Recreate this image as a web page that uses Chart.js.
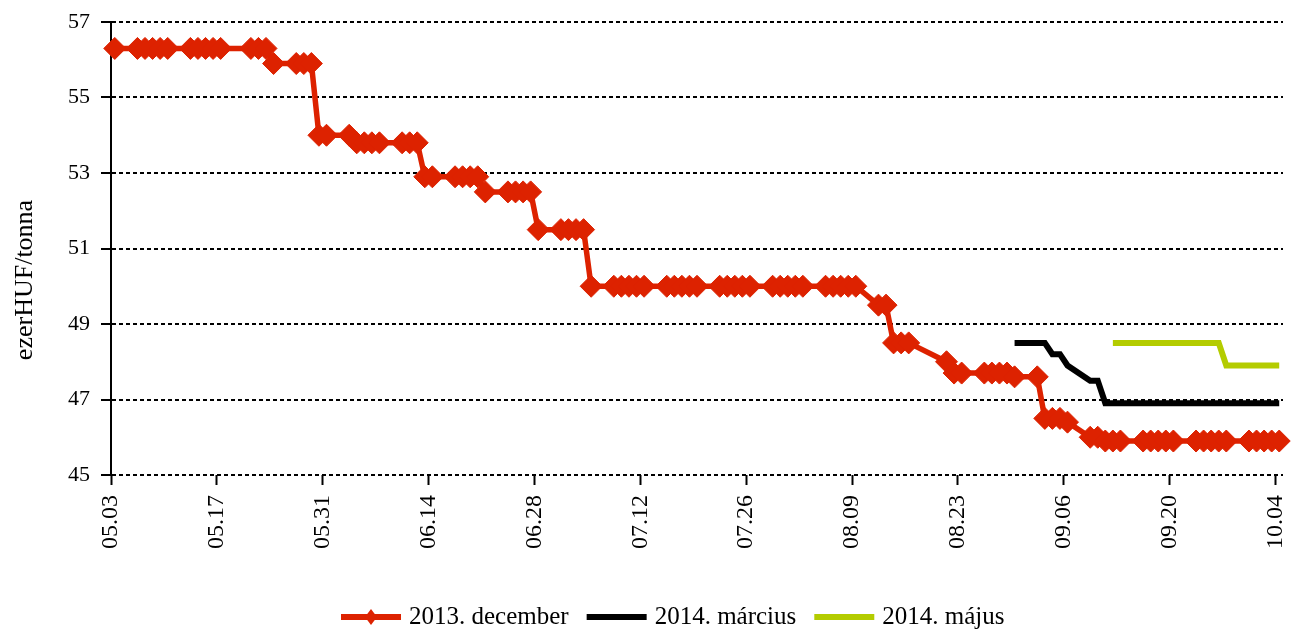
<!DOCTYPE html>
<html>
<head>
<meta charset="utf-8">
<script src="https://cdn.jsdelivr.net/npm/chart.js@4.4.1/dist/chart.umd.min.js"></script>
<style>
    html, body { margin: 0; padding: 0; background: #fff; }
    canvas { display: block; }
</style>
</head>
<body>
<canvas id="priceChart" width="1295" height="630"></canvas>
<script>
// trading days 2013 (MM.DD), holidays 05.20, 08.19, 08.20 left out
const tradingDays = [
    '05.03', '05.06', '05.07', '05.08', '05.09', '05.10', '05.13', '05.14', '05.15', '05.16', '05.17',
    '05.21', '05.22', '05.23', '05.24', '05.27', '05.28', '05.29', '05.30', '05.31',
    '06.03', '06.04', '06.05', '06.06', '06.07', '06.10', '06.11', '06.12', '06.13', '06.14',
    '06.17', '06.18', '06.19', '06.20', '06.21', '06.24', '06.25', '06.26', '06.27', '06.28',
    '07.01', '07.02', '07.03', '07.04', '07.05', '07.08', '07.09', '07.10', '07.11', '07.12',
    '07.15', '07.16', '07.17', '07.18', '07.19', '07.22', '07.23', '07.24', '07.25', '07.26',
    '07.29', '07.30', '07.31', '08.01', '08.02', '08.05', '08.06', '08.07', '08.08', '08.09',
    '08.12', '08.13', '08.14', '08.15', '08.16', '08.21', '08.22', '08.23',
    '08.26', '08.27', '08.28', '08.29', '08.30', '09.02', '09.03', '09.04', '09.05', '09.06',
    '09.09', '09.10', '09.11', '09.12', '09.13', '09.16', '09.17', '09.18', '09.19', '09.20',
    '09.23', '09.24', '09.25', '09.26', '09.27', '09.30', '10.01', '10.02', '10.03', '10.04',
];

const dec2013 = [
    56.3, 56.3, 56.3, 56.3, 56.3, 56.3, 56.3, 56.3, 56.3, 56.3, 56.3,
    56.3, 56.3, 56.3, 55.9, 55.9, 55.9, 55.9, 54.0, 54.0,
    54.0, 53.8, 53.8, 53.8, 53.8, 53.8, 53.8, 53.8, 52.9, 52.9,
    52.9, 52.9, 52.9, 52.9, 52.5, 52.5, 52.5, 52.5, 52.5, 51.5,
    51.5, 51.5, 51.5, 51.5, 50.0, 50.0, 50.0, 50.0, 50.0, 50.0,
    50.0, 50.0, 50.0, 50.0, 50.0, 50.0, 50.0, 50.0, 50.0, 50.0,
    50.0, 50.0, 50.0, 50.0, 50.0, 50.0, 50.0, 50.0, 50.0, 50.0,
    49.5, 49.5, 48.5, 48.5, 48.5, 48.0, 47.7, 47.7,
    47.7, 47.7, 47.7, 47.7, 47.6, 47.6, 46.5, 46.5, 46.5, 46.4,
    46.0, 46.0, 45.9, 45.9, 45.9, 45.9, 45.9, 45.9, 45.9, 45.9,
    45.9, 45.9, 45.9, 45.9, 45.9, 45.9, 45.9, 45.9, 45.9, 45.9,
];

// from 08.30
const mar2014 = [
    48.5, 48.5, 48.5, 48.2, 48.2, 47.9,
    47.5, 47.5, 46.9, 46.9, 46.9, 46.9, 46.9, 46.9, 46.9, 46.9,
    46.9, 46.9, 46.9, 46.9, 46.9, 46.9, 46.9, 46.9, 46.9, 46.9,
];

// from 09.12
const may2014 = [
    48.5, 48.5, 48.5, 48.5, 48.5, 48.5, 48.5,
    48.5, 48.5, 48.5, 48.5, 47.9, 47.9, 47.9, 47.9, 47.9, 47.9,
];

const axisDays = ['05.03', '05.17', '05.31', '06.14', '06.28', '07.12', '07.26', '08.09', '08.23', '09.06', '09.20', '10.04'];
const yTicks = [45, 47, 49, 51, 53, 55, 57];

const seriesNames = ['2013. december', '2014. március', '2014. május'];
const yTitle = 'ezerHUF/tonna';

const serif = "'Liberation Serif', 'Times New Roman', serif";

const dayOffset = (s) => {
    const [m, d] = s.split('.').map(Number);
    return (Date.UTC(2013, m - 1, d) - Date.UTC(2013, 4, 3)) / 864e5;
};
// points sit in the middle of their day
const toPoints = (days, values) => values.map((v, i) => ({ x: dayOffset(days[i]) + 0.5, y: v }));

const marDays = tradingDays.slice(tradingDays.indexOf('08.30'));
const mayDays = tradingDays.slice(tradingDays.indexOf('09.12'));

const excelLegend = {
    id: 'excelLegend',
    afterDraw(chart) {
        const ctx = chart.ctx;
        const y = 617;
        let x = 341;
        ctx.save();
        ctx.font = '25px ' + serif;
        ctx.textBaseline = 'middle';
        chart.data.datasets.forEach((ds) => {
            ctx.strokeStyle = ds.borderColor;
            ctx.lineWidth = 6;
            ctx.beginPath();
            ctx.moveTo(x, y);
            ctx.lineTo(x + 60, y);
            ctx.stroke();
            if (ds.pointRadius > 0) {
                ctx.fillStyle = ds.borderColor;
                ctx.beginPath();
                ctx.moveTo(x + 24, y);
                ctx.lineTo(x + 30, y - 8);
                ctx.lineTo(x + 36, y);
                ctx.lineTo(x + 30, y + 8);
                ctx.closePath();
                ctx.fill();
            }
            ctx.fillStyle = '#000';
            ctx.fillText(ds.label, x + 68, y);
            x += 68 + ctx.measureText(ds.label).width + 18;
        });
        ctx.restore();
    },
};

const axisTitle = {
    id: 'axisTitle',
    afterDraw(chart) {
        const ctx = chart.ctx;
        ctx.save();
        ctx.font = '26px ' + serif;
        ctx.fillStyle = '#000';
        ctx.textAlign = 'center';
        ctx.textBaseline = 'alphabetic';
        ctx.translate(32, 280);
        ctx.rotate(-Math.PI / 2);
        ctx.fillText(yTitle, 0, 0);
        ctx.restore();
    },
};

new Chart(document.getElementById('priceChart'), {
    type: 'line',
    data: {
        datasets: [
            {
                label: seriesNames[0],
                data: toPoints(tradingDays, dec2013),
                borderColor: '#dd2200',
                backgroundColor: '#dd2200',
                borderWidth: 5.5,
                pointStyle: 'rectRot',
                pointRadius: 11,
                pointBorderWidth: 1,
                pointBackgroundColor: '#dd2200',
                pointBorderColor: '#dd2200',
                tension: 0,
                clip: false,
            },
            {
                label: seriesNames[1],
                data: toPoints(marDays, mar2014),
                borderColor: '#000000',
                backgroundColor: '#000000',
                borderWidth: 6,
                pointRadius: 0,
                tension: 0,
            },
            {
                label: seriesNames[2],
                data: toPoints(mayDays, may2014),
                borderColor: '#b4cc00',
                backgroundColor: '#b4cc00',
                borderWidth: 6,
                pointRadius: 0,
                tension: 0,
            },
        ],
    },
    options: {
        responsive: false,
        animation: false,
        layout: { padding: { top: 22, right: 7, bottom: 40, left: 0 } },
        plugins: {
            legend: { display: false },
            tooltip: { enabled: false },
        },
        scales: {
            x: {
                type: 'linear',
                min: 0,
                max: 155,
                afterBuildTicks: (scale) => {
                    scale.ticks = axisDays.map((s) => ({ value: dayOffset(s) }));
                },
                afterFit: (scale) => {
                    scale.height = 115;
                    scale.paddingLeft = 0;
                    scale.paddingRight = 0;
                },
                ticks: {
                    callback: (value, index) => axisDays[index],
                    minRotation: 90,
                    maxRotation: 90,
                    padding: 10,
                    color: '#000',
                    font: { family: serif, size: 24 },
                },
                grid: {
                    drawOnChartArea: false,
                    drawTicks: true,
                    tickLength: 10,
                    tickColor: '#000',
                    tickWidth: 2,
                },
                border: { display: false },
            },
            y: {
                min: 45,
                max: 57,
                afterBuildTicks: (scale) => {
                    scale.ticks = yTicks.map((v) => ({ value: v }));
                },
                afterFit: (scale) => {
                    scale.width = 111;
                    scale.paddingTop = 0;
                    scale.paddingBottom = 0;
                },
                ticks: {
                    padding: 11,
                    color: '#000',
                    font: { family: serif, size: 22 },
                },
                grid: {
                    color: '#000',
                    lineWidth: 2,
                    drawTicks: true,
                    tickLength: 10,
                    tickColor: '#000',
                    tickWidth: 2,
                },
                border: { display: true, color: '#000', width: 2, dash: [4, 3] },
            },
        },
    },
    plugins: [excelLegend, axisTitle],
});
</script>
</body>
</html>
